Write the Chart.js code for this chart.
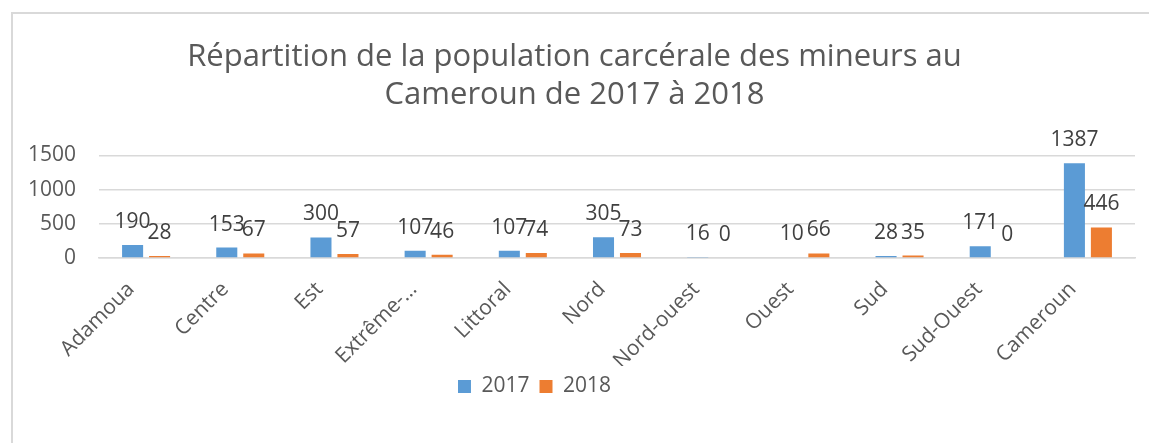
<!DOCTYPE html>
<html>
<head>
<meta charset="utf-8">
<script src="https://cdn.jsdelivr.net/npm/chart.js@4"></script>
<style>
  html, body { margin: 0; padding: 0; background: #fff; }
  #wrap { width: 1149px; height: 443px; position: relative; }
</style>
</head>
<body>
<div id="wrap"><canvas id="chart"></canvas></div>
<script>
const regions = ['Adamoua', 'Centre', 'Est', 'Extrême-…', 'Littoral', 'Nord', 'Nord-ouest', 'Ouest', 'Sud', 'Sud-Ouest', 'Cameroun'];
const values2017 = [190, 153, 300, 107, 107, 305, 16, 10, 28, 171, 1387];
const values2018 = [28, 67, 57, 46, 74, 73, 0, 66, 35, 0, 446];
const yTicks = [0, 500, 1000, 1500];
const titleLines = ['Répartition de la population carcérale des mineurs au', 'Cameroun de 2017 à 2018'];

const FONT = "'Open Sans', 'Noto Sans', sans-serif";
const GREY = '#595959';

// light frame round the chart, like the office chart box
const frame = {
  id: 'frame',
  beforeDraw(chart) {
    const c = chart.ctx;
    c.save();
    c.fillStyle = '#fff';
    c.fillRect(0, 0, chart.width, chart.height);
    c.strokeStyle = '#d9d9d9';
    c.lineWidth = 2;
    c.strokeRect(12, 13, chart.width + 50, chart.height + 50);
    c.restore();
  }
};

// value labels above each bar
const barLabels = {
  id: 'barLabels',
  afterDatasetsDraw(chart) {
    const c = chart.ctx;
    c.save();
    c.font = `21px ${FONT}`;
    c.fillStyle = '#404040';
    c.textAlign = 'center';
    c.textBaseline = 'alphabetic';
    chart.data.datasets.forEach((ds, i) => {
      chart.getDatasetMeta(i).data.forEach((bar, j) => {
        c.fillText(String(ds.data[j]), bar.x, bar.y - 17);
      });
    });
    c.restore();
  }
};

// office puts the legend a bit left of the middle
const legendNudge = {
  id: 'legendNudge',
  afterLayout(chart) {
    const lg = chart.legend;
    if (!lg) return;
    lg.left -= 40;
    lg.right -= 40;
  }
};

new Chart(document.getElementById('chart'), {
  type: 'bar',
  data: {
    labels: regions,
    datasets: [
      { label: '2017', data: values2017, backgroundColor: '#5B9BD5', categoryPercentage: 0.573, barPercentage: 0.78 },
      { label: '2018', data: values2018, backgroundColor: '#ED7D31', categoryPercentage: 0.573, barPercentage: 0.78 }
    ]
  },
  options: {
    responsive: true,
    maintainAspectRatio: false,
    animation: false,
    layout: { padding: { top: 10, left: 14, right: 14, bottom: 36 } },
    scales: {
      x: {
        grid: { display: false, drawTicks: false },
        border: { display: true, color: '#d9d9d9', width: 1.5 },
        ticks: {
          autoSkip: false, minRotation: 45, maxRotation: 45,
          color: GREY, font: { family: FONT, size: 21 }, padding: 19, labelOffset: -15
        },
        afterFit: s => { s.height = 108; }
      },
      y: {
        min: 0, max: 1500,
        grid: { color: '#d9d9d9', lineWidth: 1.5, drawTicks: false },
        border: { display: false },
        afterBuildTicks: s => { s.ticks = yTicks.map(v => ({ value: v })); },
        ticks: { color: GREY, font: { family: FONT, size: 21 }, padding: 23, callback: v => String(v) },
        afterFit: s => { s.width = 85; }
      }
    },
    plugins: {
      title: {
        display: true,
        text: titleLines,
        color: GREY,
        font: { family: FONT, size: 31, weight: 'normal', lineHeight: 1.2 },
        padding: { top: 29, bottom: 42 }
      },
      legend: {
        position: 'bottom',
        labels: { color: GREY, font: { family: FONT, size: 21 }, boxWidth: 13, boxHeight: 13, padding: 10 }
      },
      tooltip: { enabled: false }
    }
  },
  plugins: [frame, barLabels, legendNudge]
});
</script>
</body>
</html>
